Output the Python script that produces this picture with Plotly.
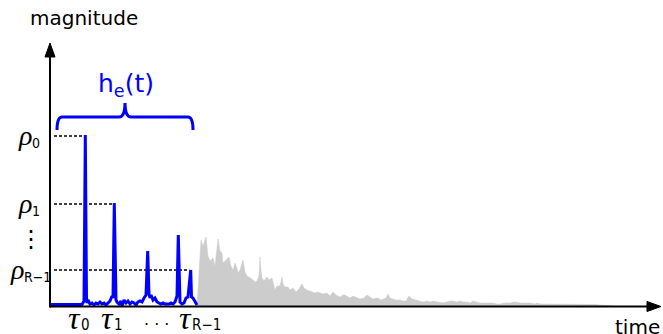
import plotly.graph_objects as go

# ---------------- data (time and magnitude in arbitrary units) ----------------
# early part h_e(t): sparse reflections + small noise floor (blue)
blue_t = [0, 32, 34, 35.3, 36.5, 37, 38, 40, 42, 44, 46, 48, 50, 52, 54, 56, 58, 60, 62, 63,
          64.3, 65.5, 66, 67, 69, 71, 72, 74, 76, 78, 80, 82, 84, 86, 88, 90, 92, 94, 96,
          97.7, 99, 100, 101, 103, 105, 107, 109, 111, 113, 115, 117, 119, 121, 123, 125, 127,
          128.3, 129.5, 130, 132, 134, 136, 138, 140.7, 141.5, 143, 145, 147]
blue_m = [1.5, 1.5, 5, 171, 8, 3, 6, 2, 3, 1, 3, 2, 4, 2, 3, 1, 3, 5, 10, 8,
          103, 8, 6, 4, 2, 5, 0, 6, 3, 5, 2, 4, 3, 1, 4, 5, 4, 8, 11,
          55, 12, 8, 11, 6, 8, 4, 3, 2, 3, 2, 2, 2, 3, 2, 4, 10,
          71, 6, 4, 2, 3, 8, 9, 36, 9, 8, 5, 1]

# late reverberation tail (gray)
gray_t = [147, 149, 151, 153, 155, 156, 158, 160, 161, 163, 165, 167, 168, 170, 172, 173, 175,
          177, 179, 181, 183, 185, 187, 188, 190, 193, 195, 197, 200, 202, 205, 207, 209, 210,
          211, 212, 214, 217, 219, 222, 224, 225, 227, 230, 232, 233, 235, 238, 240, 243, 246,
          249, 252, 254, 257, 260, 262, 265, 268, 270, 273, 277, 280, 283, 286, 290, 293, 295,
          298, 300, 303, 307, 310, 314, 317, 320, 323, 326, 328, 331, 333, 336, 338, 340, 343,
          346, 350, 353, 356, 359, 362, 365, 369, 373, 377, 380, 383, 387, 390, 393, 397, 400,
          403, 407, 410, 413, 417, 420, 423, 426, 430, 435, 440, 443, 447, 450, 455, 460, 465,
          470, 475, 480, 485, 487, 490, 495, 500, 505, 510, 515, 520, 525, 530, 535, 540, 545,
          550, 555, 560, 563]
gray_m = [0, 30, 66, 60, 68, 69, 50, 45, 46, 48, 40, 60, 67, 55, 53, 43, 45,
          48, 49, 40, 36, 43, 38, 33, 36, 46, 34, 30, 28, 27, 24, 25, 30, 49,
          35, 28, 25, 29, 26, 28, 20, 16, 20, 20, 29, 22, 19, 19, 16, 18, 14,
          17, 22, 18, 16, 15, 14, 13, 14, 13, 12, 13, 10, 14, 11, 9, 11, 11,
          9, 8, 10, 8, 7, 8, 11, 9, 7, 8, 8, 6, 7, 8, 12, 8, 7,
          6, 6, 5, 5, 10, 7, 6, 5, 4, 5, 4, 5, 4, 4, 3, 4, 5,
          5, 4, 5, 4, 4, 3, 5, 4, 3, 3, 3, 3, 2, 2, 3, 3, 4,
          3, 3, 3, 2, 3, 2, 2, 2, 2, 2, 1.5, 2, 2, 2, 1.5, 1.5, 1.5,
          1, 1, 0.5, 0]

# reflection amplitudes / delays (tick positions) and their labels
rho_vals = [170, 102, 36]
tau_vals = [35.3, 64.3, 140.7]
rho_subs = ["0", "1", "R\u22121"]
tau_subs = ["0", "1", "R\u22121"]

# ---------------- figure ----------------
BLUE = "#0000ff"
GRAY = "#cccccc"
SUBF = "Liberation Sans Narrow, DejaVu Sans Condensed, DejaVu Sans"
GREEKF = "Liberation Serif"

fig = go.Figure()
fig.add_trace(go.Scatter(x=gray_t, y=gray_m, mode="lines", fill="tozeroy",
                         fillcolor=GRAY, line=dict(color=GRAY, width=0.5),
                         hoverinfo="skip", showlegend=False))
fig.add_trace(go.Scatter(x=blue_t, y=blue_m, mode="lines",
                         line=dict(color=BLUE, width=3), hoverinfo="skip", showlegend=False))

shapes = []
# dashed guides from the axis to each reflection
for r, t in zip(rho_vals, tau_vals):
    shapes.append(dict(type="line", xref="x", yref="y", x0=4, x1=t - 1.5, y0=r, y1=r,
                       line=dict(color="black", width=1.4, dash="3px,2px"), layer="below"))

# axes with arrow heads
shapes.append(dict(type="line", xref="x", yref="y", x0=0, x1=600, y0=-0.5, y1=-0.5,
                   line=dict(color="black", width=2)))
shapes.append(dict(type="line", xref="x", yref="y", x0=0, x1=0, y0=-1.5, y1=252,
                   line=dict(color="black", width=2)))
shapes.append(dict(type="path", xref="x", yref="y",
                   path="M 597,-5.5 L 611,-0.5 L 597,4.5 Z",
                   fillcolor="black", line=dict(color="black", width=1)))
shapes.append(dict(type="path", xref="x", yref="y",
                   path="M -5,249 L 0,263 L 5,249 Z",
                   fillcolor="black", line=dict(color="black", width=1)))

# curly brace over the early part
bl, br = blue_t[0] + 7, blue_t[-1] - 4
bm = (bl + br) / 2
brace = (f"M {bl},176 Q {bl},189 {bl+5},189 L {bm-6},189 Q {bm},189 {bm},203 "
         f"Q {bm},189 {bm+6},189 L {br-5},189 Q {br},189 {br},176")
shapes.append(dict(type="path", xref="x", yref="y", path=brace,
                   line=dict(color=BLUE, width=3)))

ann = []
# rho labels: greek glyph + subscript (split point x in axis units)
rho_split = [-17, -17, -25]
for r, s, xs in zip(rho_vals, rho_subs, rho_split):
    ann.append(dict(x=xs + 1, y=r, xref="x", yref="y", xanchor="right", yanchor="middle",
                    yshift=1, showarrow=False, text="<i>ρ</i>",
                    font=dict(family=GREEKF, size=28, color="black")))
    ann.append(dict(x=xs - 3, y=r - 7, xref="x", yref="y", xanchor="left", yanchor="middle",
                    showarrow=False, text=s,
                    font=dict(family=SUBF, size=14, color="black")))
# tau labels
tau_split = [-3.3, 0.7, 2.3]
for t, s, o in zip(tau_vals, tau_subs, tau_split):
    ann.append(dict(x=t + o + 1, y=-12, xref="x", yref="y", xanchor="right", yanchor="middle",
                    showarrow=False, text="<i>τ</i>",
                    font=dict(family=GREEKF, size=32, color="black")))
    ann.append(dict(x=t + o - 3, y=-19, xref="x", yref="y", xanchor="left", yanchor="middle",
                    showarrow=False, text=s,
                    font=dict(family=SUBF, size=15, color="black")))
ann.append(dict(x=106, y=-18, xref="x", yref="y", showarrow=False, text="· · ·",
                font=dict(family="DejaVu Sans", size=16, color="black")))
ann.append(dict(x=-19, y=67, xref="x", yref="y", showarrow=False, text="⋮",
                font=dict(family="DejaVu Sans", size=24, color="black")))
ann.append(dict(x=34, y=288, xref="x", yref="y", showarrow=False, text="magnitude",
                font=dict(family="DejaVu Sans", size=20, color="black")))
ann.append(dict(x=587, y=-21, xref="x", yref="y", showarrow=False, text="time",
                font=dict(family="DejaVu Sans", size=20, color="black")))
ann.append(dict(x=76, y=221, xref="x", yref="y", showarrow=False,
                text="h<sub>e</sub>(t)",
                font=dict(family="DejaVu Sans", size=25, color=BLUE)))

fig.update_layout(
    width=663, height=334, margin=dict(l=0, r=0, t=0, b=0),
    paper_bgcolor="white", plot_bgcolor="white",
    xaxis=dict(range=[-50, 613], visible=False, fixedrange=True),
    yaxis=dict(range=[-28, 306], visible=False, fixedrange=True),
    shapes=shapes, annotations=ann, showlegend=False,
)
fig.write_html("out.html", config={"displayModeBar": False},
               post_script="document.body.style.margin='0';document.body.style.overflow='hidden';")
